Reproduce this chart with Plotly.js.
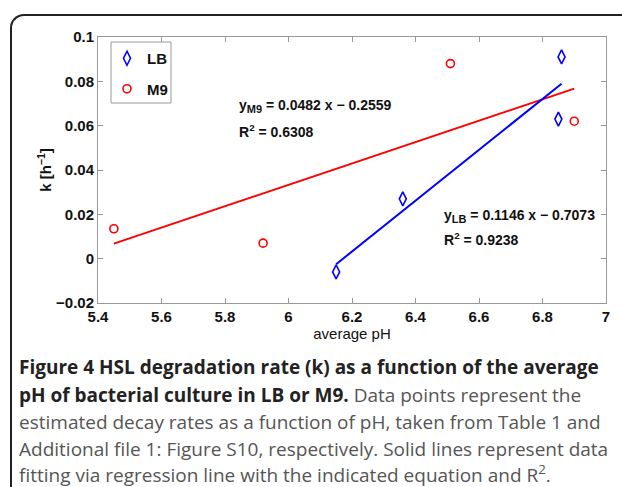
<!DOCTYPE html>
<html>
<head>
<meta charset="utf-8">
<script src="https://cdn.plot.ly/plotly-3.0.1.min.js"></script>
<style>
  html, body { margin:0; padding:0; background:#fff; }
  #wrap { position:relative; width:622px; height:487px; overflow:hidden; }
  #frame { position:absolute; left:10px; top:14px; width:700px; height:600px;
           border-left:2px solid #222; border-top:2px solid #222; border-top-left-radius:14px; }
  #chart { position:absolute; left:0; top:0; width:622px; height:487px; }
</style>
</head>
<body>
<div id="wrap">
  <div id="frame"></div>
  <div id="chart"></div>
</div>
<script>
// Data
const lbPH = [6.15, 6.36, 6.85, 6.86];
const lbK  = [-0.006, 0.027, 0.063, 0.091];
const m9PH = [5.45, 5.92, 6.51, 6.90];
const m9K  = [0.0135, 0.007, 0.088, 0.062];
// Regression line endpoints as drawn
const lbFitX = [6.15, 6.86];
const lbFitY = [-0.0025, 0.0789];
const m9FitX = [5.45, 6.90];
const m9FitY = [0.0068, 0.0767];
const xTicks = [5.4, 5.6, 5.8, 6, 6.2, 6.4, 6.6, 6.8, 7];
const yTicks = [-0.02, 0, 0.02, 0.04, 0.06, 0.08, 0.1];
const yTickText = ['−0.02', '0', '0.02', '0.04', '0.06', '0.08', '0.1'];

const plotFont = 'Liberation Sans, Arial, sans-serif';
const capFont = 'Open Sans, Noto Sans, sans-serif';

const traces = [
  { x: m9FitX, y: m9FitY, mode: 'lines', line: {color: '#ff0000', width: 2}, showlegend: false, hoverinfo: 'skip' },
  { x: lbFitX, y: lbFitY, mode: 'lines', line: {color: '#0000ff', width: 2}, showlegend: false, hoverinfo: 'skip' },
  { x: lbPH, y: lbK, mode: 'markers', name: 'LB', legendgroup: 'a',
    marker: {symbol: 'diamond-tall-open', size: 10, color: '#0000ff', line: {width: 1.6, color: '#0000ff'}} },
  { x: m9PH, y: m9K, mode: 'markers', name: 'M9', legendgroup: 'b',
    marker: {symbol: 'circle-open', size: 8, color: '#ff0000', line: {width: 1.6, color: '#ff0000'}} }
];

// pixel helpers for paper coordinates
const L = 98, R = 606, T = 37, B = 303;
const px = X => (X - L) / (R - L);
const py = Y => (B - Y) / (B - T);

const capLines = [
  {t: '<b>Figure 4 HSL degradation rate (k) as a function of the average</b>', y: 367, c: '#222'},
  {t: '<b>pH of bacterial culture in LB or M9.</b><span style="color:#555"> Data points represent the</span>', y: 395, c: '#222'},
  {t: 'estimated decay rates as a function of pH, taken from Table 1 and', y: 422, c: '#555'},
  {t: 'Additional file 1: Figure S10, respectively. Solid lines represent data', y: 449, c: '#555'},
  {t: 'fitting via regression line with the indicated equation and R<sup>2</sup>.', y: 474, c: '#555'}
];

const eqFont = {family: plotFont, size: 14, color: '#111', weight: 'bold'};
const sub = s => '<sub><span style="font-size:11px">' + s + '</span></sub>';
const annotations = [
  {text: 'y' + sub('M9') + ' = 0.0482 x − 0.2559', x: px(237), y: py(106)},
  {text: 'R<sup>2</sup> = 0.6308', x: px(237), y: py(131)},
  {text: 'y' + sub('LB') + ' = 0.1146 x − 0.7073', x: px(442), y: py(216)},
  {text: 'R<sup>2</sup> = 0.9238', x: px(442), y: py(239)}
].map(a => Object.assign(a, {xref: 'paper', yref: 'paper', showarrow: false,
   xanchor: 'left', yanchor: 'middle', font: eqFont}));

capLines.forEach(l => annotations.push({
  text: l.t, xref: 'paper', yref: 'paper', x: px(17), y: py(l.y), xanchor: 'left', yanchor: 'middle',
  showarrow: false, font: {family: capFont, size: 19, color: l.c}
}));

const layout = {
  width: 622, height: 487,
  margin: {l: L, r: 622 - R, t: T, b: 487 - B, pad: 0},
  paper_bgcolor: 'rgba(0,0,0,0)', plot_bgcolor: '#fff',
  showlegend: true,
  legend: {x: px(107), y: py(42), xanchor: 'left', yanchor: 'top', bgcolor: 'rgba(0,0,0,0)',
    borderwidth: 0, traceorder: 'grouped', tracegroupgap: 8,
    font: {family: plotFont, size: 15, color: '#111', weight: 'bold'}, itemwidth: 30},
  shapes: [
    {type: 'rect', xref: 'paper', yref: 'paper', x0: px(111), x1: px(171), y0: py(42), y1: py(103),
     line: {color: '#999', width: 1}, fillcolor: '#fff', layer: 'below'}
  ],
  xaxis: {range: [5.4, 7], tickvals: xTicks, ticktext: xTicks.map(String), ticks: 'inside', ticklen: 5, tickcolor: '#999',
    showline: true, linecolor: '#999', linewidth: 1, mirror: 'ticks', showgrid: false, zeroline: false,
    tickfont: {family: plotFont, size: 15, color: '#111', weight: 'bold'},
    title: {text: 'average pH', standoff: 0, font: {family: plotFont, size: 15, color: '#111'}}},
  yaxis: {range: [-0.02, 0.1], tickvals: yTicks, ticktext: yTickText,
    ticks: 'inside', ticklen: 5, tickcolor: '#999',
    showline: true, linecolor: '#999', linewidth: 1, mirror: 'ticks', showgrid: false, zeroline: false,
    tickfont: {family: plotFont, size: 15, color: '#111', weight: 'bold'},
    title: {text: 'k [h<sup>−1</sup>]', standoff: 0, font: {family: plotFont, size: 15, color: '#111', weight: 'bold'}}},
  annotations: annotations
};

Plotly.newPlot('chart', traces, layout, {displayModeBar: false, staticPlot: true});
</script>
</body>
</html>
